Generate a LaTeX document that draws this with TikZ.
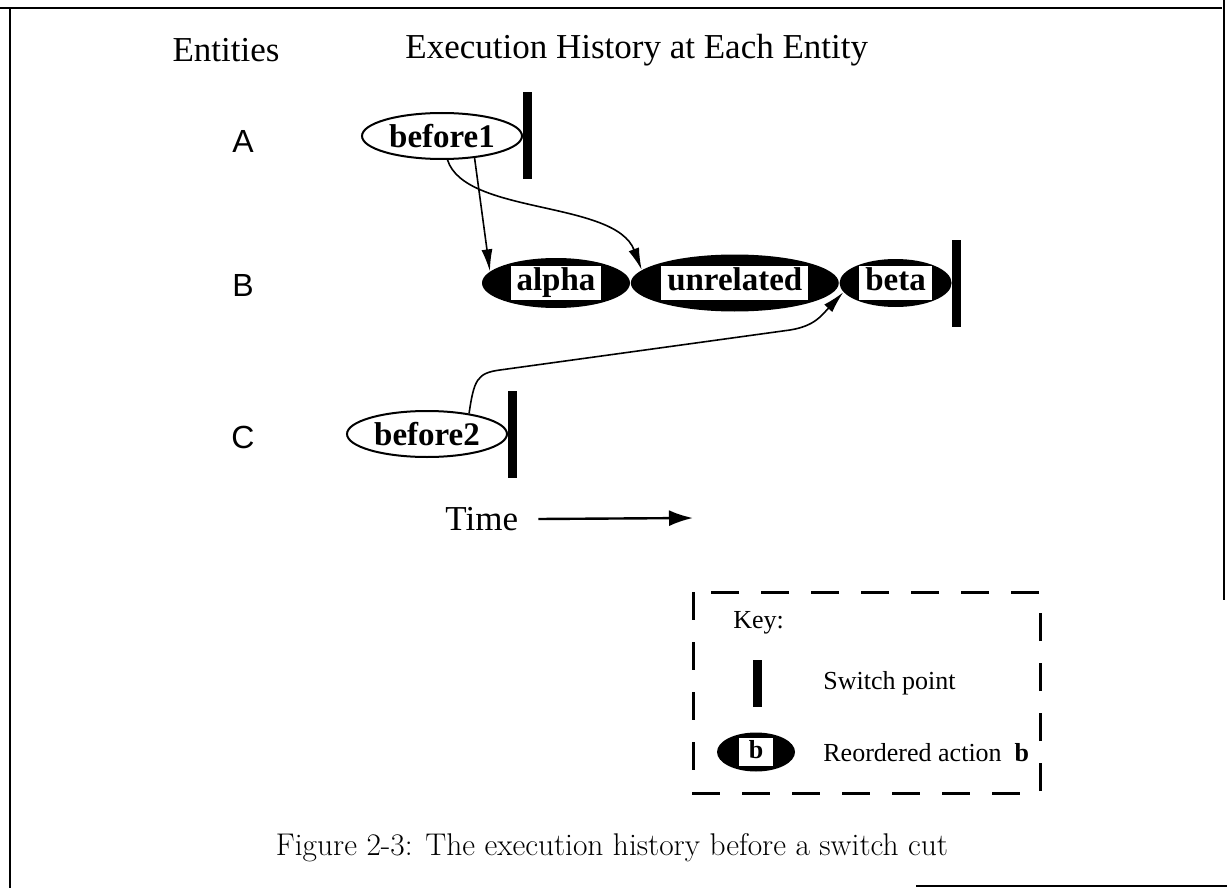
\documentclass[tikz,border=0pt]{standalone}
\usepackage{fontspec}
\newfontfamily\tnr{Liberation Serif}
\newfontfamily\helv{Liberation Sans}
\newfontfamily\cmr{Latin Modern Roman}
\usepackage{tikz}
\usetikzlibrary{arrows,arrows.meta,shapes,calc,positioning}
\tikzstyle{edge}  =[-{Latex[length=11pt,width=5.5pt]}, line width=0.8pt]
\tikzstyle{tedge} =[-{Latex[length=12pt,width=8pt]}, line width=1.2pt]
\tikzstyle{action}=[ellipse, draw, line width=1pt, inner sep=0pt,
                    minimum width=80pt, minimum height=23pt,
                    font=\tnr\bfseries\fontsize{16.5}{18}\selectfont]
\tikzstyle{raction}=[ellipse, fill=black, inner sep=0pt,
                    font=\tnr\bfseries\fontsize{16.5}{18}\selectfont]
\tikzstyle{switchpt}=[rectangle, fill=black, inner sep=0pt,
                    minimum width=4.5pt, minimum height=43.5pt]
\tikzstyle{entity}=[font=\helv\fontsize{16}{18}\selectfont]
\tikzstyle{heading}=[inner sep=0pt, font=\tnr\fontsize{17.5}{20}\selectfont]
\tikzstyle{keytext}=[inner sep=0pt, font=\tnr\fontsize{13}{16}\selectfont]
\tikzstyle{keybox}=[line width=1.5pt, dash pattern=on 14pt off 11pt]
\tikzstyle{frame}=[line width=1pt]
\newcommand{\wbox}[1]{{\setlength{\fboxsep}{1pt}\colorbox{white}{\hspace{2pt}\vphantom{lp}#1\hspace{2pt}}}}

\begin{document}
\begin{tikzpicture}[x=0.5pt,y=-0.5pt]
    \useasboundingbox (0,0) rectangle (1227,888);
    % frame
    \draw[frame] (0,8) -- (1222,8);
    \draw[frame] (10,8) -- (10,888);
    \draw[frame] (1224,0) -- (1224,600);
    \draw[frame] (916,886) -- (1227,886);

    % headings
    \node[heading] (enthead) at (226,50) {Entities};
    \node[heading, anchor=west] (exechead) at (405,50)
        {Execution History at Each Entity};

    \foreach \e/\y in {A/141,B/285,C/437}
        \node[entity] (\e) at (243,\y) {\e};

    % entity A
    \node[action] (before1) at (442,136) {before1};
    \node[switchpt, right=0pt of before1] (swA) {};

    % entity B
    \node[raction, minimum width=74pt, minimum height=25pt]
        (alpha) at (556,283) {\wbox{alpha}};
    \node[raction, minimum width=101pt, minimum height=28.5pt,
        right=0pt of alpha] (unrelated) {\wbox{unrelated}};
    \node[raction, minimum width=56pt, minimum height=24pt,
        right=0pt of unrelated] (beta) {\wbox{beta}};
    \node[switchpt, right=0pt of beta] (swB) {};

    % entity C
    \node[action] (before2) at (427,434) {before2};
    \node[switchpt, right=0pt of before2] (swC) {};

    % dependencies
    \draw[edge] (before1.-34) -- (alpha.170);
    \draw[edge] (before1.-77) .. controls (465,215) and (615,200)
        .. (unrelated.172);
    \draw[edge] (before2.26) .. controls (474,380) and (477,373)
        .. (500,370) -- (790,330) .. controls (815,326) and (822,315)
        .. (beta.190);

    % time
    \node[heading, anchor=west] (time) at (445,519) {Time};
    \coordinate (tend) at (693,518);
    \draw[tedge] ([xshift=10pt]time.east) -- (tend);

    % key
    \draw[keybox] (693,592) rectangle (1040,793);
    \node[keytext, anchor=west] (keyhead) at (733,623) {Key:};
    \node[switchpt, minimum height=23.5pt] (keysw) at (757,683) {};
    \node[keytext, anchor=west] (keyswtext) at (823,683) {Switch point};
    \node[raction, minimum width=39pt, minimum height=15pt,
        font=\tnr\bfseries\fontsize{13}{15}\selectfont]
        (keyact) at (756,752) {\wbox{\makebox[11pt]{b}}};
    \node[keytext, anchor=west] (keyacttext) at (823,753)
        {Reordered action\ \ \textbf{b}};

    % caption
    \node[font=\cmr\fontsize{15.7}{18}\selectfont] (caption) at (612,848)
        {Figure 2-3: The execution history before a switch cut};
\end{tikzpicture}
\end{document}
